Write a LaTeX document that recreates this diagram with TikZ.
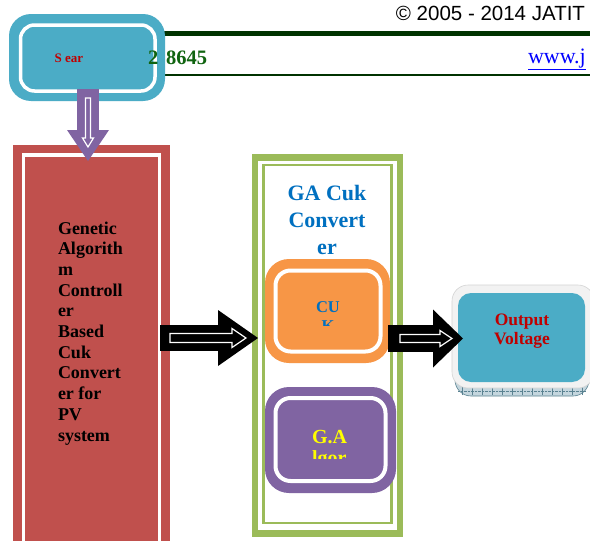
\documentclass[tikz,border=0pt]{standalone}
\usepackage{fontspec}
\setmainfont{Liberation Serif}
\newfontfamily\arialf{Liberation Sans}
\usetikzlibrary{arrows.meta,calc}
\definecolor{teal1}{RGB}{75,172,198}
\definecolor{redbox}{RGB}{192,80,77}
\definecolor{greenbox}{RGB}{155,187,89}
\definecolor{orangebox}{RGB}{247,150,70}
\definecolor{purplebox}{RGB}{128,100,162}
\definecolor{txtblue}{RGB}{0,112,192}
\definecolor{txtred}{RGB}{192,0,0}
\definecolor{txtyellow}{RGB}{255,255,0}
\definecolor{hdrgreen}{RGB}{0,51,0}
\definecolor{issngreen}{RGB}{16,100,16}
\definecolor{urlblue}{RGB}{0,0,255}
\definecolor{framegrey}{RGB}{242,242,242}
\definecolor{frameedge}{RGB}{212,212,212}
\definecolor{bevel}{RGB}{196,214,222}
\definecolor{beveledge}{RGB}{90,130,145}
\begin{document}
\begin{tikzpicture}[x=1pt,y=-1pt,
  every node/.style={inner sep=0pt, outer sep=0pt},
  ringouter/.style={fill=#1, rounded corners=24pt},
  ringinner/.style={fill=#1, draw=white, line width=4pt, rounded corners=15pt},
  rulethick/.style={hdrgreen, line width=4.5pt},
  rulethin/.style={hdrgreen, line width=2.5pt},
  innerarrow/.style={draw=white, line width=1.2pt, fill=#1}]
\useasboundingbox (0,0) rectangle (590,541);
\fill[white] (0,0) rectangle (590,541);
\clip (0,0) rectangle (590,541);

% header
\draw[rulethick] (150,33.5) -- (590,33.5);
\draw[rulethin] (150,75) -- (590,75);
\node[anchor=base east, font=\arialf\fontsize{20.5}{24}\selectfont] (hdr) at (585,20) {© 2005 - 2014 JATIT};
\node[anchor=base west, font=\fontsize{22}{26}\selectfont, text=urlblue] (url) at (528,63) {\underline{www.j}};

% red box
\node[fill=redbox, minimum width=157pt, minimum height=415pt] (ga) at (91.5,352.5) {};
\node[fill=redbox, draw=white, line width=3.5pt, minimum width=136pt, minimum height=415pt, anchor=north] (gain) at (91.5,155) {};
\node[align=left, anchor=base west, font=\fontsize{18}{20.7}\selectfont\bfseries, text=black] (galbl) at (58,441)
  {Genetic\\Algorith\\m\\Controll\\er\\Based\\Cuk\\Convert\\er for\\PV\\system};

% top box
\node[ringouter=teal1, rounded corners=22pt, minimum width=156pt, minimum height=87pt] (src) at (87,57.5) {};
\node[ringinner=teal1, line width=3.5pt, rounded corners=14pt, minimum width=134.5pt, minimum height=66pt] (srcin) at (87.75,58) {};
\node[font=\fontsize{13}{15}\selectfont\bfseries, text=txtred] (srclbl) at (69,58) {S ear};
\node[anchor=base west, font=\fontsize{20.5}{24}\selectfont\bfseries, text=issngreen] (issn) at (148,64) {2\hspace{8pt}8645};

% purple down arrow
\coordinate (p0) at ($(src.south)+(1,-12)$);
\draw[purplebox, line width=22pt, -{Triangle[length=31pt,width=42pt,line width=0pt]}] (p0) -- ($(ga.north)+(-3.5,16)$);
\begin{scope}[shift={(p0)}]
\draw[innerarrow=purplebox] (-2.5,9) -- (-2.5,49) -- (-5.5,49) -- (0,58) -- (5.5,49) -- (2.5,49) -- (2.5,9) -- cycle;
\end{scope}

% green container
\node[draw=greenbox, line width=6.5pt, minimum width=145pt, minimum height=376pt] (conv) at (327.5,345.5) {};
\node[draw=greenbox, line width=2.5pt, minimum width=128pt, minimum height=358pt] (convin) at (327.5,344) {};
\node[align=center, anchor=base, font=\fontsize{22}{27}\selectfont\bfseries, text=txtblue] (convlbl) at (327,254) {GA Cuk\\Convert\\er};

% orange box
\node[ringouter=orangebox, minimum width=125pt, minimum height=104pt] (cuk) at (327.5,311) {};
\node[ringinner=orangebox, minimum width=105pt, minimum height=81pt] (cukin) at (328,311) {};
\begin{scope}
\clip (270,268) rectangle (386,325.5);
\node[align=center, anchor=base, font=\fontsize{16.5}{19}\selectfont\bfseries, text=txtblue] (cuklbl) at (328,331) {CU\\K};
\end{scope}

% purple box
\node[ringouter=purplebox, minimum width=131pt, minimum height=106pt] (gaalg) at (330.5,440) {};
\node[ringinner=purplebox, minimum width=110pt, minimum height=83pt] (gaalgin) at (330.5,439.5) {};
\begin{scope}
\clip (270,396) rectangle (392,458.5);
\node[align=left, anchor=base west, font=\fontsize{20}{21}\selectfont\bfseries, text=txtyellow] (gaalglbl) at (312,464) {G.A\\lgor};
\end{scope}

% output box
\path[fill=bevel, draw=beveledge, line width=0.6pt, rounded corners=16pt] (455,292) rectangle (589,396);
\foreach \x in {462,472,...,582} \draw[beveledge, line width=0.4pt] (\x,386) -- (\x,395);
\draw[beveledge, densely dotted, line width=0.4pt] (458,391.5) -- (586,391.5);
\node[fill=framegrey, draw=frameedge, line width=0.6pt, rounded corners=16pt, minimum width=142pt, minimum height=103pt] (out) at (523,336.5) {};
\node[fill=teal1, rounded corners=13pt, minimum width=127pt, minimum height=89pt] (outin) at (521.5,337.5) {};
\node[align=center, anchor=base, font=\fontsize{17.5}{19.5}\selectfont\bfseries, text=txtred] (outlbl) at (522,344.5) {Output\\Voltage};

% black arrows
\coordinate (m1) at (0,338);
\coordinate (m2) at (0,338.5);
\coordinate (a1) at ($(ga.east|-m1)+(-10,0)$);
\coordinate (a2) at ($(cuk.east|-m2)+(-2,0)$);
\draw[black, line width=26pt, -{Triangle[length=40pt,width=56pt,line width=0pt]}] (a1) -- ($(conv.west|-m1)+(3,0)$);
\begin{scope}[shift={(a1)}]
\draw[innerarrow=black] (10,-4.5) -- (72,-4.5) -- (72,-9.5) -- (86,0) -- (72,9.5) -- (72,4.5) -- (10,4.5) -- cycle;
\end{scope}
\draw[black, line width=27pt, -{Triangle[length=30pt,width=58pt,line width=0pt]}] (a2) -- ($(out.west|-m2)+(11,0)$);
\begin{scope}[shift={(a2)}]
\draw[innerarrow=black] (12,-4) -- (52,-4) -- (52,-8) -- (64,0) -- (52,8) -- (52,4) -- (12,4) -- cycle;
\end{scope}
\end{tikzpicture}
\end{document}
